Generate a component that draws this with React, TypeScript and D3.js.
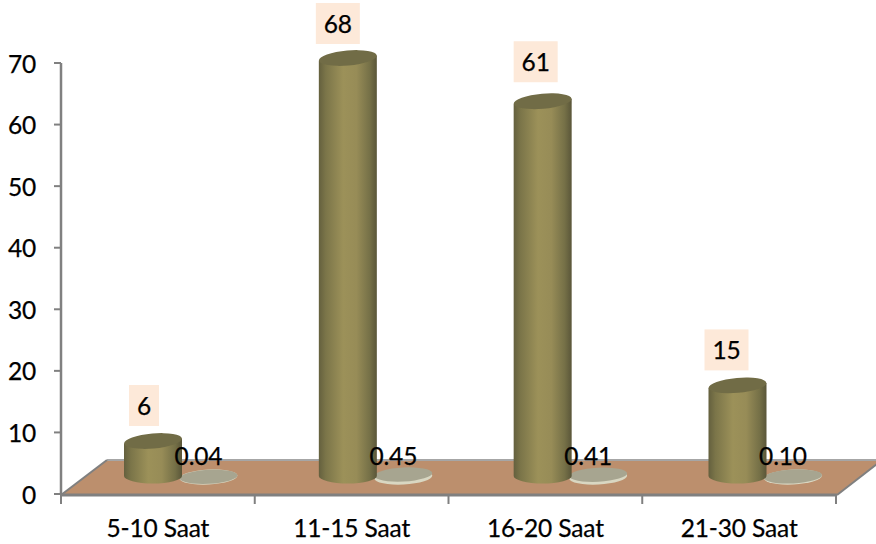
import React from "react";
import * as d3 from "d3";

const categories = ["5-10 Saat", "11-15 Saat", "16-20 Saat", "21-30 Saat"];
const seriesA = [6, 68, 61, 15];
const seriesB = [0.04, 0.45, 0.41, 0.1];
const seriesBLabels = ["0.04", "0.45", "0.41", "0.10"];
const yTicks = [0, 10, 20, 30, 40, 50, 60, 70];

const W = 876, H = 544;
const FONT = "Lato, Carlito, Calibri, sans-serif";

const txt = { fontFamily: FONT, fontSize: 24.5, fill: "#000", stroke: "#000", strokeWidth: 0.25, letterSpacing: -0.15 } as const;

export default function App() {
  const axisY = d3.scaleLinear().domain([0, 70]).range([494, 63]);
  const heightY = d3.scaleLinear().domain([6, 68]).range([441, 58]);
  const discLift = d3.scaleLinear().domain([0, 0.45]).range([0, 2.5]);
  const band = d3.scaleBand<string>().domain(categories).range([61, 836]);
  const cylX = d3.scalePoint<string>().domain(categories).range([153, 737.5]);
  const floorPts: [number, number][] = [[61, 495], [107, 460], [882, 460], [837, 495]];
  const line = d3.line();
  const ticksX = [...categories.map((c) => band(c)!), 836];
  const rx = 29, ry = 7.5, tilt = -5;
  const labelOffsets = [-9, -10, -7, -11];
  const labelLifts = [35.5, 34.5, 39.5, 35.5];

  return (
    <svg width={W} height={H} style={{ position: "absolute", left: 0, top: 0, background: "#fff" }}>
      <defs>
        <linearGradient id="cyl" x1="0" x2="1" y1="0" y2="0">
          <stop offset="0" stopColor="#64603e" />
          <stop offset="0.12" stopColor="#7b7549" />
          <stop offset="0.42" stopColor="#9c9159" />
          <stop offset="0.65" stopColor="#978c57" />
          <stop offset="0.88" stopColor="#757047" />
          <stop offset="1" stopColor="#5a5639" />
        </linearGradient>
      </defs>

      <path d={line(floorPts)! + "Z"} fill="#bc8f6d" />
      <path d={line(floorPts.slice(1, 3))!} stroke="#a6a6a6" strokeWidth={2} fill="none" />
      <path d={line([floorPts[0], floorPts[1]])!} stroke="#808080" strokeWidth={2} fill="none" />
      <path d={line([floorPts[2], floorPts[3]])!} stroke="#808080" strokeWidth={2} fill="none" />
      <path d={line([floorPts[0], floorPts[3]])!} stroke="#808080" strokeWidth={3} fill="none" />

      <line x1={61} x2={61} y1={axisY(70)} y2={495} stroke="#808080" strokeWidth={2.5} />
      {yTicks.map((t) => (
        <g key={t}>
          <line x1={54} x2={61} y1={axisY(t)} y2={axisY(t)} stroke="#808080" strokeWidth={2} />
          <text x={36} y={axisY(t) + 9.5} textAnchor="end" {...txt}>{t}</text>
        </g>
      ))}
      {ticksX.map((x) => (
        <line key={x} x1={x} x2={x} y1={494} y2={504} stroke="#808080" strokeWidth={2} />
      ))}
      {categories.map((c) => (
        <text key={c} x={band(c)! + band.bandwidth() / 2} y={537} textAnchor="middle" {...txt}>{c}</text>
      ))}

      {categories.map((c, i) => {
        const cx = cylX(c)!;
        const dx = cx + 55.5;
        const yt = heightY(seriesA[i]);
        const yb = 476;
        const lift = discLift(seriesB[i]);
        const labelX = cx + labelOffsets[i];
        const labelY = yt - labelLifts[i];
        const boxW = String(seriesA[i]).length > 1 ? 44 : 30;
        return (
          <g key={c}>
            <ellipse cx={dx} cy={477} rx={29} ry={7.5} transform={`rotate(-3 ${dx} 477)`} fill="#d9d7c2" />
            <ellipse cx={dx} cy={477 - lift} rx={29} ry={7} transform={`rotate(-3 ${dx} ${477 - lift})`} fill="#a7a590" />
            <path
              d={`M${cx - rx},${yt + 2.5} L${cx - rx},${yb} A${rx},${ry} 0 0 0 ${cx + rx},${yb} L${cx + rx},${yt - 2.5} Z`}
              fill="url(#cyl)"
            />
            <ellipse cx={cx} cy={yt} rx={rx} ry={ry} transform={`rotate(${tilt} ${cx} ${yt})`} fill="#716c46" />
            <rect x={labelX - boxW / 2} y={labelY - 20.5} width={boxW} height={41} fill="#fde9d9" />
            <text x={labelX} y={labelY + 9} textAnchor="middle" {...txt}>{seriesA[i]}</text>
            <text x={dx - 10} y={465} textAnchor="middle" {...txt}>{seriesBLabels[i]}</text>
          </g>
        );
      })}
    </svg>
  );
}
